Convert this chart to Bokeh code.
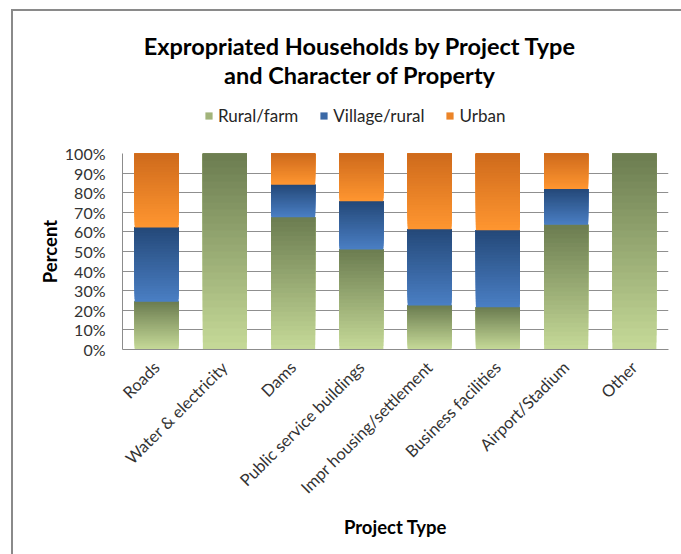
from bokeh.plotting import figure
from bokeh.models import (FactorRange, Range1d, Legend, LegendItem, Label,
                          PrintfTickFormatter, FixedTicker, ColumnDataSource)
from bokeh.layouts import column
from bokeh.embed import file_html
from bokeh.resources import INLINE
import math

categories = ["Roads", "Water & electricity", "Dams", "Public service buildings",
              "Impr housing/settlement", "Business facilities", "Airport/Stadium", "Other"]
rural_farm = [24.4, 100.0, 67.5, 51.0, 22.4, 21.5, 63.6, 100.0]
village_rural = [37.8, 0.0, 16.6, 24.6, 39.0, 39.4, 18.3, 0.0]
urban = [37.8, 0.0, 15.9, 24.4, 38.6, 39.1, 18.1, 0.0]
series_names = ["Rural/farm", "Village/rural", "Urban"]
y_ticks = [0, 10, 20, 30, 40, 50, 60, 70, 80, 90, 100]
title_lines = ["Expropriated Households by Project Type", "and Character of Property"]

# gradient colours (bottom, top) for each series
grad = {
    "Rural/farm": ((198, 218, 152), (107, 124, 80)),
    "Village/rural": ((74, 127, 196), (36, 72, 120)),
    "Urban": ((255, 150, 48), (206, 106, 28)),
}
FONT = "Lato"
W = 668
HT = 120            # header (title + legend) figure height
HB = 423            # chart figure height
FL, FR, FT, FB = 109, 13, 22, 205
FW = W - FL - FR

def hexcol(c):
    return "#%02x%02x%02x" % tuple(int(round(v)) for v in c)

# ---------------- header figure: title + legend ----------------
ph = figure(width=W, height=HT, x_range=Range1d(0, FW), y_range=Range1d(0, HT),
            x_axis_type=None, y_axis_type=None, output_backend="svg",
            toolbar_location=None, min_border_left=FL, min_border_right=FR,
            min_border_top=0, min_border_bottom=0, title=None)
ph.outline_line_color = None
ph.xgrid.visible = False
ph.ygrid.visible = False
for txt, cy in zip(title_lines, [34, 63]):
    ph.add_layout(Label(x=237.5, y=HT - cy, text=txt, text_align="center",
                        text_baseline="middle", text_font=FONT, text_font_style="bold",
                        text_font_size="23.5px", text_color="#000000"))
leg_rs = []
for name in series_names:
    c0, c1 = grad[name]
    mid = hexcol([(c0[j] * 0.6 + c1[j] * 0.4) for j in range(3)])
    # legend swatch renderer: a single bar kept outside the visible range
    leg_rs.append(ph.vbar(x=[-50], bottom=[-50], top=[-40], width=1,
                          fill_color=mid, line_color=None))
legend = Legend(items=[LegendItem(label=n, renderers=[r]) for n, r in zip(series_names, leg_rs)],
                orientation="horizontal", location=(82, 5),
                glyph_width=9, glyph_height=9, label_standoff=5, spacing=21,
                padding=0, margin=0, border_line_color=None, background_fill_alpha=0,
                label_text_font=FONT, label_text_font_size="17px", label_text_color="#262626")
ph.add_layout(legend, "center")

# ---------------- chart figure ----------------
p = figure(width=W, height=HB, x_range=FactorRange(*categories, range_padding=0),
           y_range=Range1d(0, 100), output_backend="svg", toolbar_location=None,
           min_border_left=FL, min_border_right=FR, min_border_top=FT, min_border_bottom=FB,
           title=None)
p.outline_line_color = None
p.background_fill_color = "white"

N = 28
bottoms = [0.0] * len(categories)
for name, vals in zip(series_names, [rural_farm, village_rural, urban]):
    c0, c1 = grad[name]
    xs, b, t, cols = [], [], [], []
    for i, cat in enumerate(categories):
        lo = bottoms[i]
        hi = lo + vals[i]
        if vals[i] > 0:
            for k in range(N):
                f = (k + 0.5) / N
                xs.append(cat)
                b.append(lo + (hi - lo) * k / N)
                t.append(hi)
                cols.append(hexcol([c0[j] + (c1[j] - c0[j]) * f for j in range(3)]))
        bottoms[i] = hi
    src = ColumnDataSource(dict(x=xs, bottom=b, top=t, color=cols))
    p.vbar(x="x", bottom="bottom", top="top", width=0.645, source=src,
           fill_color="color", line_color=None)

p.yaxis.ticker = FixedTicker(ticks=y_ticks)
p.yaxis.formatter = PrintfTickFormatter(format="%d%%")
p.yaxis.major_tick_out = 0
p.yaxis.major_tick_in = 0
p.yaxis.major_tick_line_color = None
p.yaxis.minor_tick_line_color = None
p.yaxis.axis_line_color = "#8c8c8c"
p.yaxis.major_label_standoff = 17
p.yaxis.major_label_text_font = FONT
p.yaxis.major_label_text_font_size = "16px"
p.yaxis.major_label_text_color = "#333333"
p.yaxis.axis_label = "Percent"
p.yaxis.axis_label_text_font = FONT
p.yaxis.axis_label_text_font_style = "bold"
p.yaxis.axis_label_text_font_size = "18.5px"
p.yaxis.axis_label_text_color = "#000000"
p.yaxis.axis_label_standoff = 1

p.xaxis.major_label_orientation = math.pi / 4
p.xaxis.major_tick_out = 0
p.xaxis.major_tick_in = 0
p.xaxis.major_tick_line_color = None
p.xaxis.minor_tick_line_color = None
p.xaxis.axis_line_color = "#8c8c8c"
p.xaxis.major_label_standoff = 15
p.xaxis.major_label_text_font = FONT
p.xaxis.major_label_text_font_size = "16.5px"
p.xaxis.major_label_text_color = "#333333"
p.xaxis.axis_label = "Project Type"
p.xaxis.axis_label_text_font = FONT
p.xaxis.axis_label_text_font_style = "bold"
p.xaxis.axis_label_text_font_size = "18.5px"
p.xaxis.axis_label_text_color = "#000000"
p.xaxis.axis_label_standoff = 8

p.xgrid.grid_line_color = None
p.ygrid.grid_line_color = "#8f8f8f"
p.ygrid.grid_line_width = 1
p.ygrid.ticker = FixedTicker(ticks=y_ticks)

layout = column(ph, p, spacing=0,
                styles={"margin-left": "11px", "margin-top": "9px",
                        "border-left": "2px solid #8a8a8a", "border-top": "2px solid #8a8a8a"})

open("out.html", "w").write(file_html(layout, INLINE))
